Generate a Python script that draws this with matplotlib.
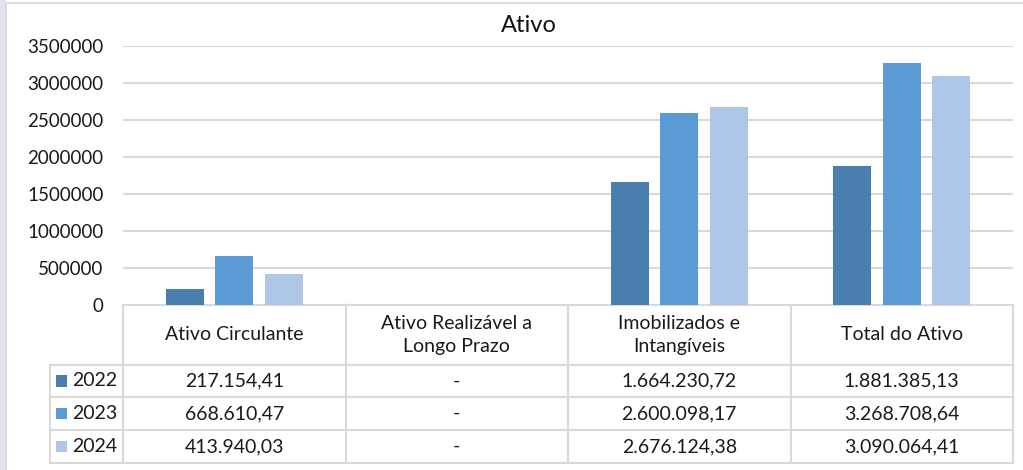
import matplotlib.pyplot as plt
import matplotlib.transforms as mtransforms
from matplotlib.patches import Rectangle
import numpy as np

plt.rcParams['font.family'] = ['Lato', 'DejaVu Sans']

categorias = ['Ativo Circulante', 'Ativo Realizável a\nLongo Prazo',
              'Imobilizados e\nIntangíveis', 'Total do Ativo']
anos = ['2022', '2023', '2024']
v2022 = [217154.41, 0, 1664230.72, 1881385.13]
v2023 = [668610.47, 0, 2600098.17, 3268708.64]
v2024 = [413940.03, 0, 2676124.38, 3090064.41]
textos = [['217.154,41', '-', '1.664.230,72', '1.881.385,13'],
          ['668.610,47', '-', '2.600.098,17', '3.268.708,64'],
          ['413.940,03', '-', '2.676.124,38', '3.090.064,41']]
cores = ['#4a7eaf', '#5b9bd5', '#aec7e6']
yticks = [0, 500000, 1000000, 1500000, 2000000, 2500000, 3000000, 3500000]

W, H = 1023, 470
fig = plt.figure(figsize=(W / 100, H / 100), dpi=100)

# moldura do gráfico
fig.patches.append(Rectangle((0, 0), 6 / W, 1, transform=fig.transFigure,
                             facecolor='#e4e4ee', edgecolor='none', zorder=0))
fig.add_artist(plt.Line2D([6 / W, 6 / W], [0, 1 - 3 / H], color='#d9d9d9', lw=1.2))
fig.add_artist(plt.Line2D([6 / W, 1], [1 - 3 / H, 1 - 3 / H], color='#d9d9d9', lw=1.2))

x0, x1, ytop, ybot = 123, 1013, 46, 305
ax = fig.add_axes([x0 / W, 1 - ybot / H, (x1 - x0) / W, (ybot - ytop) / H])

x = np.arange(len(categorias))
larg = 0.172
passo = 0.222
for i, vals in enumerate([v2022, v2023, v2024]):
    ax.bar(x + (i - 1) * passo, vals, larg, color=cores[i], zorder=3)

ax.set_xlim(-0.5, 3.5)
ax.set_ylim(0, 3500000)
ax.set_yticks(yticks)
ax.set_yticklabels([str(t) for t in yticks], fontsize=13.5, color='#1a1a1a')
ax.tick_params(axis='y', length=0, pad=14)
ax.set_xticks([])
ax.grid(axis='y', color='#d9d9d9', lw=1.5, zorder=0)
for s in ax.spines.values():
    s.set_visible(False)

fig.text(529 / W, 1 - 26 / H, 'Ativo', fontsize=17, ha='center', va='center', color='#111111')

# tabela de dados
tr = mtransforms.blended_transform_factory(ax.transData, ax.transAxes)
ah = ybot - ytop
def ya(py):
    return -(py - ybot) / ah

linhas = [305, 365, 397, 430, 463]
xleg = -0.5 - (x0 - 50) / 222.5
cor_linha = '#d9d9d9'
kw = dict(transform=tr, clip_on=False, color=cor_linha, lw=1.5)
# horizontais
ax.plot([-0.5, 3.5], [ya(305), ya(305)], **kw)
for py in linhas[1:]:
    ax.plot([xleg, 3.5], [ya(py), ya(py)], **kw)
# verticais
for xv in np.arange(-0.5, 4.0, 1.0):
    ax.plot([xv, xv], [ya(305), ya(463)], **kw)
ax.plot([xleg, xleg], [ya(365), ya(463)], **kw)

for j, cat in enumerate(categorias):
    ax.text(x[j], ya(335), cat, transform=tr, ha='center', va='center',
            fontsize=14, color='#1a1a1a', linespacing=1.45)

for i, ano in enumerate(anos):
    yc = ya((linhas[i + 1] + linhas[i + 2]) / 2)
    ax.add_patch(Rectangle((xleg + 0.028, yc - 0.022), 0.048, 0.044, transform=tr,
                           facecolor=cores[i], edgecolor='none', clip_on=False))
    ax.text(xleg + 0.1, yc, ano, transform=tr, ha='left', va='center',
            fontsize=14, color='#1a1a1a')
    for j in range(len(categorias)):
        ax.text(x[j], yc, textos[i][j], transform=tr, ha='center', va='center',
                fontsize=14, color='#1a1a1a')

fig.savefig('out.png', dpi=100)
